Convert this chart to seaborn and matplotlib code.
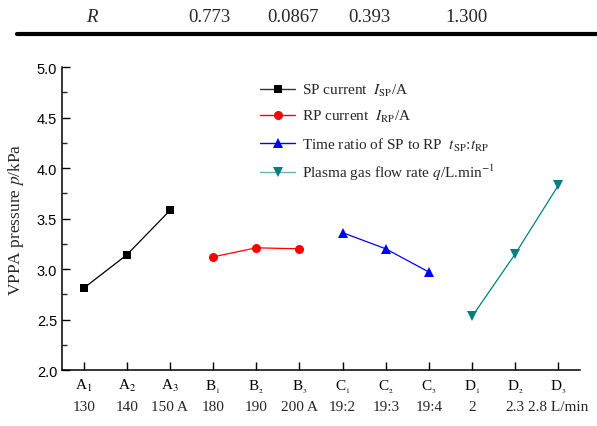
import matplotlib
matplotlib.use("Agg")
import matplotlib.pyplot as plt
import seaborn as sns
import pandas as pd
import numpy as np
from matplotlib.ticker import MultipleLocator
from matplotlib.lines import Line2D
from matplotlib.legend import Legend

sns.set_style("ticks")
plt.rcParams['font.family'] = ['Liberation Serif', 'DejaVu Serif']
plt.rcParams['mathtext.fontset'] = 'stix'

# ---- data ----
factor_labels = ["A$_1$", "A$_2$", "A$_3$",
                 "B$_{_1}$", "B$_{_2}$", "B$_{_3}$",
                 "C$_{_1}$", "C$_{_2}$", "C$_{_3}$",
                 "D$_{_1}$", "D$_{_2}$", "D$_{_3}$"]
level_labels = ["130", "140", "150 A", "180", "190", "200 A",
                "19:2", "19:3", "19:4", "2", "2.3", "2.8 L/min"]
sp_current = [2.81, 3.14, 3.58]
rp_current = [3.12, 3.21, 3.20]
time_ratio = [3.36, 3.20, 2.97]
gas_flow = [2.53, 3.15, 3.83]
r_label = "R"
r_values = ["0.773", "0.0867", "0.393", "1.300"]

series_names = ["SP current  $I_{\\rm SP}$/A",
                "RP current  $I_{\\rm RP}$/A",
                "Time ratio of SP to RP  $t_{\\rm SP}$:$t_{\\rm RP}$",
                "Plasma gas flow rate $q$/L.min$^{-1}$"]
series_values = [sp_current, rp_current, time_ratio, gas_flow]
colors = ["black", "red", "blue", "#008080"]
legend_line_colors = ["#333333", "red", "blue", "#66b3b3"]
markers = ["s", "o", "^", "v"]
msizes = [6, 6.5, 7.5, 7.5]

fig = plt.figure(figsize=(5.97, 4.27), dpi=100)
ax = fig.add_axes([0.1039, 0.1311, 0.8676, 0.7096])

pos = 1
for name, vals, c, m, ms in zip(series_names, series_values, colors, markers, msizes):
    df = pd.DataFrame({"x": np.arange(pos, pos + len(vals)), "y": vals})
    sns.lineplot(data=df, x="x", y="y", ax=ax, color=c, marker=m,
                 markersize=ms, markeredgewidth=0, linewidth=0.9, legend=False)
    pos += len(vals)

ax.set_xlim(0.5, 12.5)
ax.set_ylim(2.0, 5.0)
ax.yaxis.set_major_locator(MultipleLocator(0.5))
ax.yaxis.set_minor_locator(MultipleLocator(0.25))
ax.set_xticks(np.arange(1, 13))
ax.set_xticklabels(factor_labels, fontsize=11)
ax.tick_params(axis='both', which='major', direction='in', length=6, width=1.0, colors='black')
ax.tick_params(axis='y', which='minor', direction='in', length=3.5, width=1.0)
ax.tick_params(axis='x', pad=5)
ax.set_yticks(np.arange(2.0, 5.01, 0.5))
ax.set_yticklabels([f"{v:.1f}" for v in np.arange(2.0, 5.01, 0.5)],
                   fontfamily='Liberation Sans', fontsize=10.5)
ax.set_xlabel("")
ax.set_ylabel("VPPA pressure $p$/kPa", fontsize=12.5, labelpad=8)
for s in ["top", "right"]:
    ax.spines[s].set_visible(False)
for s in ["left", "bottom"]:
    ax.spines[s].set_linewidth(1.1)
    ax.spines[s].set_color("black")

trans = matplotlib.transforms.blended_transform_factory(ax.transData, ax.transAxes)
for i, t in enumerate(level_labels):
    ax.text(i + 1, -0.122, t, transform=trans, ha='center', va='center', fontsize=11)

# legend: one entry per row so the rows keep even spacing
legend_rows_y = [91, 117, 145, 173]
for name, lc, c, m, ms, yy in zip(series_names, legend_line_colors, colors, markers, msizes, legend_rows_y):
    h = Line2D([], [], color=lc, marker=m, markerfacecolor=c, markeredgewidth=0,
               markersize=ms, linewidth=1.0)
    leg = Legend(ax, [h], [name], loc='center left', bbox_to_anchor=(260 / 597, 1 - yy / 427),
                 bbox_transform=fig.transFigure, frameon=False, fontsize=11,
                 handlelength=2.3, handletextpad=0.45, borderpad=0, borderaxespad=0)
    ax.add_artist(leg)

# header row of table
fig.text(92 / 597, 1 - 17 / 427, r_label, fontsize=13.5, style='italic', ha='center', va='center')
for xv, t in zip([209, 293, 369, 467], r_values):
    fig.text(xv / 597, 1 - 17 / 427, t, fontsize=13.5, ha='center', va='center')
fig.add_artist(Line2D([17 / 597, 1.0], [1 - 35 / 427, 1 - 35 / 427], color='black',
                      linewidth=3, transform=fig.transFigure))

fig.savefig("out.png", dpi=100)
